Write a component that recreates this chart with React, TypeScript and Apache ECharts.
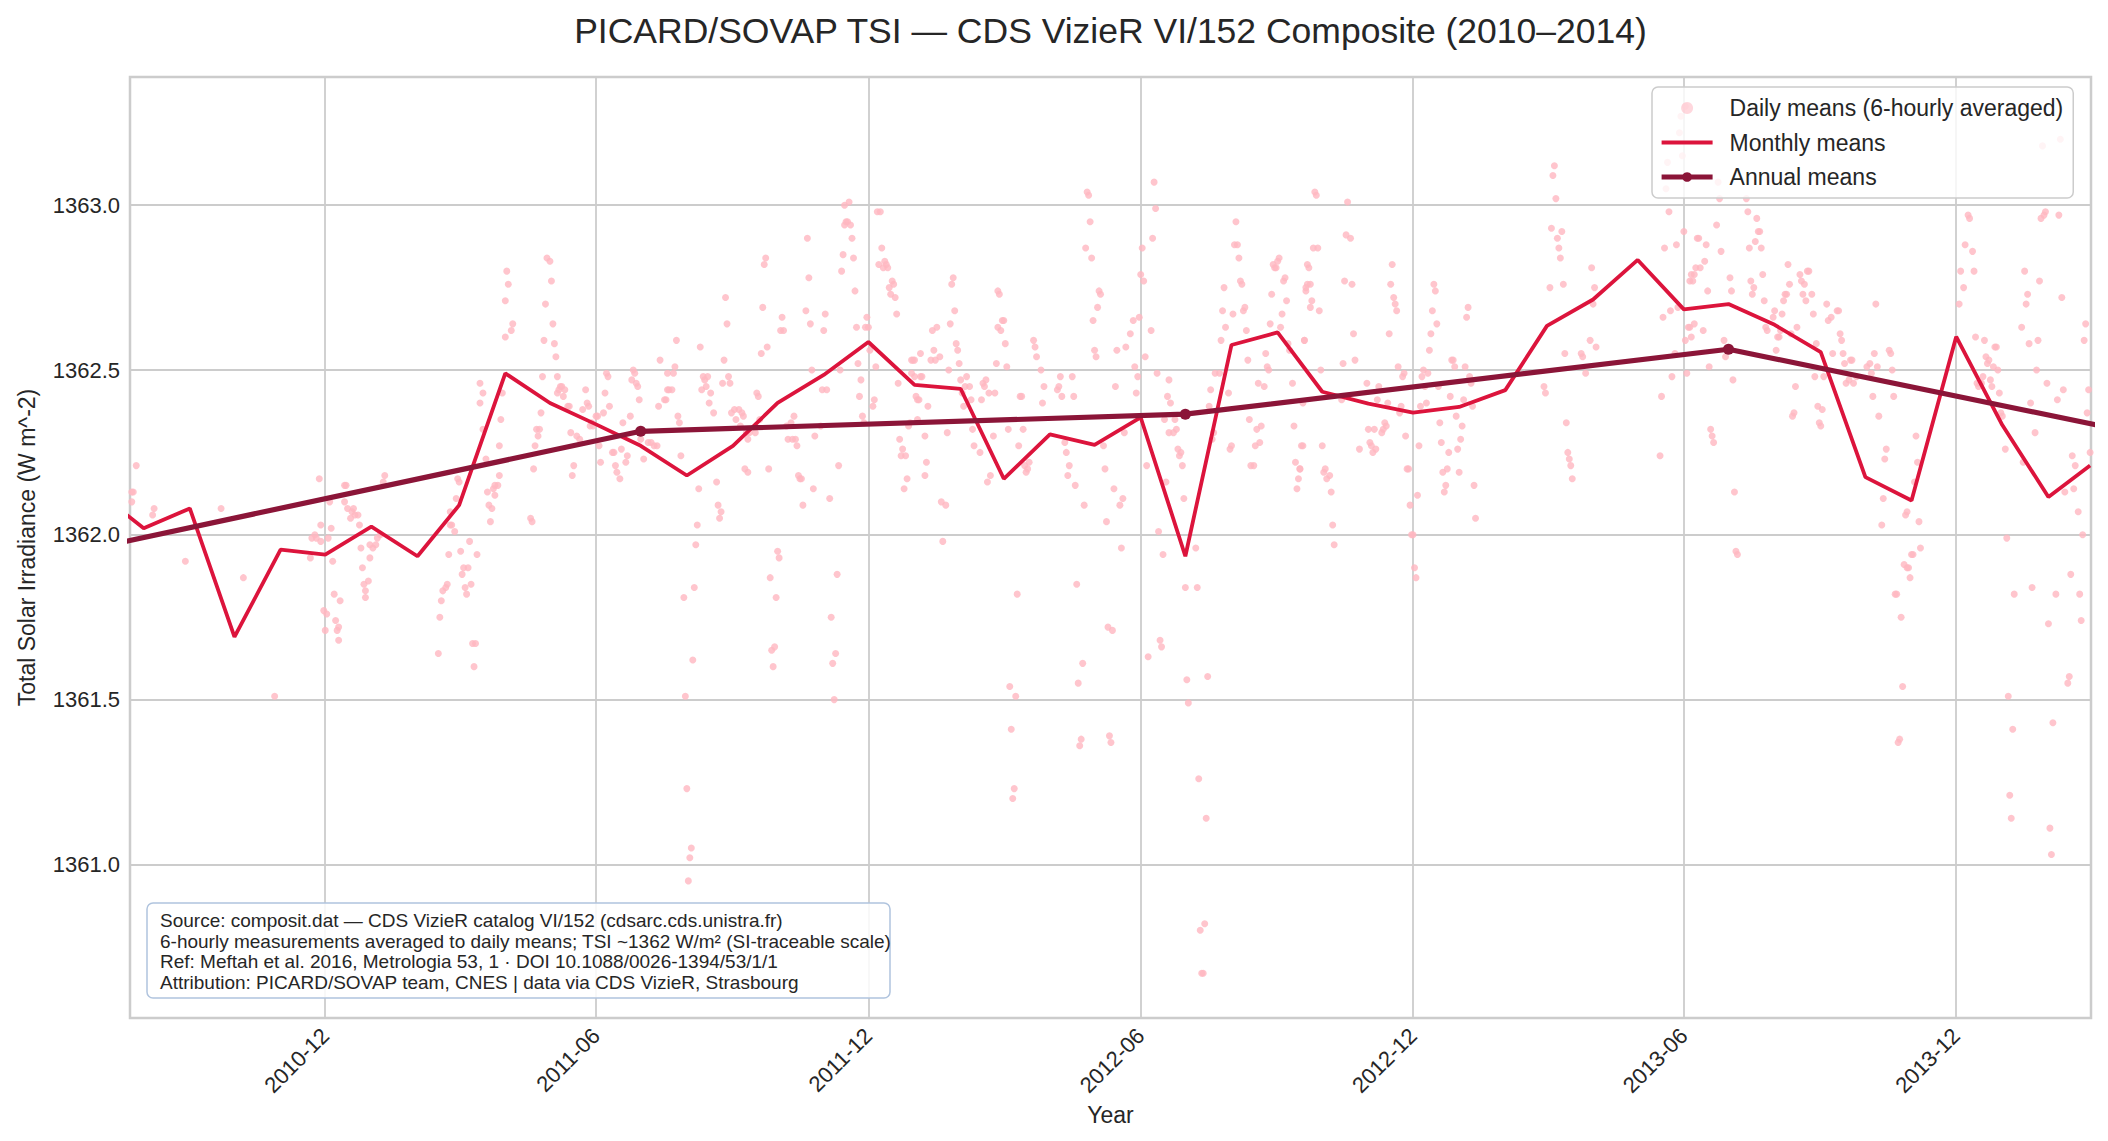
import React, { useEffect, useRef } from 'react';
import * as echarts from 'echarts';

const FONT = '"Liberation Sans", Arial, Helvetica, sans-serif';
const DAY_MS = 86400000;
const BASE_UTC = Date.UTC(2010, 6, 1); // day 0 = 2010-07-01
const toTime = (d: number) => BASE_UTC + d * DAY_MS;

// Daily means: [days since 2010-07-01, TSI W m^-2]
const daily2010: [number, number][] = [
  [23,1362.13],[24,1362.13],[23,1362.10],[26,1362.21],[37,1362.06],[38,1362.08],[59,1361.92],[83,1362.08],[98,1361.87],[119,1361.51],
  [149,1362.17],[150,1362.03],[146,1362.00],[144,1361.99],[147,1361.99],[150,1361.98],[155,1361.99],[157,1362.02],[156,1362.10],[143,1361.93],
  [158,1361.92],[152,1361.77],[154,1361.76],[153,1361.71],[159,1361.82],[163,1361.80],[160,1361.74],[162,1361.72],[161,1361.71],[162,1361.68],
  [166,1362.15],[167,1362.15],[166,1362.10],[168,1362.08],[172,1362.08],[171,1362.07],[173,1362.06],[175,1362.06],[170,1362.05],[176,1362.03],
  [177,1361.96],[183,1361.97],[178,1361.90],[182,1361.86],[179,1361.85],[180,1361.83],[180,1361.81],[183,1361.93],
];
const daily2011: [number, number][] = [
  [185,1361.96],[187,1361.97],[188,1361.99],[190,1362.00],[192,1362.16],[193,1362.18],
  [229,1361.64],[230,1361.75],[231,1361.80],[232,1361.83],[234,1361.84],[235,1361.85],[236,1361.94],[237,1362.03],[238,1362.03],[240,1362.01],
  [237,1362.07],[241,1362.11],[242,1362.17],[243,1362.16],[244,1361.95],[245,1361.88],[246,1361.90],[249,1361.90],[250,1361.98],[247,1361.84],
  [251,1361.85],[248,1361.82],[255,1361.94],[252,1361.67],[254,1361.67],[253,1361.60],[262,1362.13],[263,1362.09],[265,1362.08],[264,1362.04],
  [266,1362.14],[267,1362.12],[269,1362.15],[267,1362.15],[270,1362.18],[270,1362.27],[271,1362.35],[272,1362.43],[257,1362.46],[259,1362.43],
  [257,1362.40],[259,1362.32],[261,1362.23],[274,1362.60],[278,1362.62],[279,1362.64],[274,1362.71],[276,1362.76],[275,1362.80],
  [302,1362.84],[304,1362.83],[305,1362.77],[301,1362.70],[306,1362.64],[300,1362.59],[307,1362.58],[308,1362.54],[299,1362.48],[309,1362.48],
  [298,1362.37],[295,1362.32],[297,1362.32],[296,1362.30],[294,1362.27],[293,1362.20],[291,1362.05],[292,1362.04],[317,1362.39],[316,1362.39],
  [311,1362.45],[310,1362.44],[312,1362.45],[314,1362.44],[309,1362.43],[313,1362.42],[318,1362.31],[320,1362.21],[319,1362.18],[324,1362.29],
  [322,1362.30],[326,1362.38],[328,1362.44],[329,1362.40],[330,1362.39],[332,1362.34],[331,1362.33],[335,1362.36],[333,1362.33],[337,1362.27],
  [338,1362.22],[336,1362.36],[340,1362.37],[341,1362.43],[342,1362.49],[343,1362.48],[344,1362.39],[346,1362.25],[348,1362.21],[349,1362.19],
  [351,1362.17],[347,1362.25],[352,1362.26],[353,1362.34],[355,1362.22],[356,1362.24],[358,1362.36],[359,1362.47],[360,1362.50],[361,1362.49],
  [362,1362.46],[363,1362.45],[364,1362.41],[365,1362.29],[367,1362.23],[370,1362.28],[372,1362.28],[374,1362.27],[376,1362.27],[377,1362.39],
  [378,1362.53],[381,1362.41],[382,1362.41],[383,1362.44],[384,1362.44],[386,1362.44],[383,1362.49],[387,1362.49],[388,1362.51],[389,1362.59],
  [390,1362.36],[391,1362.34],[392,1362.24],[394,1361.81],[395,1361.51],[396,1361.23],[397,1360.95],[398,1361.02],[399,1361.05],[400,1361.62],
  [401,1361.84],[402,1361.97],[403,1362.03],[404,1362.14],[406,1362.44],[407,1362.48],[408,1362.47],[409,1362.45],[411,1362.40],[412,1362.43],
  [410,1362.48],[414,1362.37],[405,1362.57],[416,1362.16],[417,1362.09],[418,1362.05],[419,1362.07],[420,1362.46],[421,1362.53],[422,1362.72],
  [423,1362.64],[424,1362.48],[425,1362.46],[426,1362.37],[428,1362.38],[429,1362.35],[431,1362.38],[432,1362.33],[433,1362.37],[434,1362.36],
  [436,1362.31],[437,1362.29],[438,1362.31],[435,1362.20],[437,1362.19],[443,1362.43],[444,1362.42],[442,1362.31],[445,1362.35],[447,1362.69],
  [448,1362.82],[449,1362.84],[446,1362.55],[450,1362.57],[451,1362.20],[452,1361.87],[453,1361.65],[454,1361.60],[455,1361.66],[456,1361.81],
  [457,1361.95],[458,1361.93],[459,1362.62],[461,1362.62],[460,1362.66],[463,1362.33],[464,1362.29],[466,1362.34],[467,1362.29],[468,1362.36],
  [469,1362.29],[470,1362.27],[471,1362.18],[472,1362.17],[473,1362.17],[474,1362.09],[476,1362.68],[477,1362.90],[478,1362.78],[479,1362.64],
  [480,1362.50],[481,1362.14],[482,1362.30],[486,1362.33],[487,1362.44],[488,1362.62],[489,1362.67],[490,1362.44],[492,1362.11],[493,1361.75],
  [494,1361.61],[495,1361.50],[496,1361.64],[497,1361.88],[498,1362.21],[499,1362.50],[500,1362.80],[501,1362.85],[502,1362.94],[503,1362.95],
  [504,1362.95],[505,1363.01],[502,1363.00],[506,1362.94],[507,1362.90],[508,1362.84],[509,1362.74],[510,1362.63],[511,1362.52],[512,1362.42],
  [513,1362.47],[514,1362.36],[515,1362.34],[516,1362.63],[517,1362.66],[518,1362.63],[519,1362.56],[521,1362.39],[522,1362.41],[523,1362.51],
  [524,1362.98],[526,1362.98],[527,1362.87],[525,1362.82],[528,1362.81],[529,1362.83],[530,1362.82],[531,1362.81],[532,1362.75],[533,1362.73],
  [534,1362.77],[535,1362.76],[536,1362.72],[537,1362.67],[538,1362.46],[539,1362.29],[540,1362.24],[541,1362.26],[543,1362.24],[544,1362.17],
  [542,1362.14],[545,1362.33],[547,1362.53],[548,1362.53],
];
const daily2012: [number, number][] = [
  [549,1362.48],[550,1362.42],[551,1362.41],[547,1362.49],[549,1362.53],[552,1362.41],[553,1362.48],[554,1362.48],[553,1362.55],[546,1362.34],
  [551,1362.35],[556,1362.30],[557,1362.22],[556,1362.18],[558,1362.39],[560,1362.53],[561,1362.62],[562,1362.56],[563,1362.53],[564,1362.63],
  [566,1362.54],[567,1362.10],[570,1362.09],[568,1361.98],[571,1362.31],[572,1362.50],[573,1362.64],[574,1362.76],[575,1362.78],[576,1362.68],
  [577,1362.58],[578,1362.56],[579,1362.52],[580,1362.47],[581,1362.43],[582,1362.39],[584,1362.48],[583,1362.45],[586,1362.45],[587,1362.41],
  [588,1362.32],[589,1362.27],[593,1362.25],[594,1362.41],[595,1362.46],[596,1362.45],[597,1362.47],[599,1362.43],[600,1362.18],[598,1362.16],
  [602,1362.30],[603,1362.43],[604,1362.52],[605,1362.74],[606,1362.73],[605,1362.63],[607,1362.62],[608,1362.65],[609,1362.65],[610,1362.58],
  [611,1362.51],[612,1362.32],[613,1361.54],[614,1361.41],[615,1361.20],[616,1361.23],[617,1361.51],[618,1361.82],[619,1362.27],[620,1362.42],
  [621,1362.42],[622,1362.32],[623,1362.21],[624,1362.19],[625,1362.20],[626,1362.22],[629,1362.59],[630,1362.57],[631,1362.54],[634,1362.50],
  [635,1362.40],[636,1362.45],[645,1362.44],[646,1362.45],[647,1362.48],[648,1362.42],[650,1362.28],[651,1362.25],[652,1362.18],[653,1362.21],
  [655,1362.48],[656,1362.42],[657,1362.15],[658,1361.85],[659,1361.55],[660,1361.36],[661,1361.38],[662,1361.61],[663,1362.09],[665,1363.04],
  [666,1363.03],[667,1362.95],[664,1362.87],[668,1362.84],[669,1362.65],[670,1362.56],[671,1362.54],[672,1362.69],[673,1362.74],[674,1362.73],
  [676,1362.27],[677,1362.20],[678,1362.04],[679,1361.72],[680,1361.39],[681,1361.37],[682,1361.71],[683,1362.14],[684,1362.45],[685,1362.56],
  [687,1362.09],[688,1361.96],[689,1362.11],[690,1362.31],[691,1362.57],[694,1362.61],[696,1362.65],[697,1362.51],[698,1362.43],[699,1362.48],
  [700,1362.66],[701,1362.79],[702,1362.87],[703,1362.77],[704,1362.54],[705,1362.21],[706,1361.63],[708,1362.62],[709,1362.90],[710,1363.07],
  [711,1362.99],[712,1362.49],[713,1362.01],[714,1361.68],[715,1361.66],[716,1361.94],[718,1362.16],[720,1362.47],[719,1362.42],[721,1362.40],
  [717,1362.35],[720,1362.31],[723,1362.31],[724,1362.35],[725,1362.32],[726,1362.26],[727,1362.24],[728,1362.25],[729,1362.21],[730,1362.11],
  [731,1361.84],[732,1361.56],[733,1361.49],[738,1361.96],[739,1361.84],[740,1361.26],[741,1360.80],[742,1360.67],[743,1360.67],[744,1360.82],
  [745,1361.14],[746,1361.57],[747,1362.39],[748,1362.44],[749,1362.29],[750,1362.31],[751,1362.49],[754,1362.49],[755,1362.59],[756,1362.68],
  [757,1362.75],[758,1362.63],[760,1362.43],[761,1362.26],[762,1362.27],[763,1362.67],[764,1362.88],[765,1362.95],[766,1362.88],[767,1362.84],
  [768,1362.77],[769,1362.76],[770,1362.68],[771,1362.69],[772,1362.62],[773,1362.53],[774,1362.35],[775,1362.21],[777,1362.21],[778,1362.27],
  [779,1362.32],[780,1362.46],[781,1362.28],[782,1362.33],[784,1362.45],[785,1362.55],[786,1362.51],[787,1362.50],[788,1362.64],[789,1362.73],
  [790,1362.82],[791,1362.81],[792,1362.81],[793,1362.83],[794,1362.84],[795,1362.63],[796,1362.67],[797,1362.77],[798,1362.78],[799,1362.71],
  [800,1362.58],[801,1362.56],[803,1362.46],[804,1362.33],[805,1362.22],[806,1362.14],[807,1362.17],[808,1362.20],[809,1362.27],[811,1362.59],
  [812,1362.75],[813,1362.76],[814,1362.81],[818,1363.04],[819,1363.03],[817,1362.87],[820,1362.87],[813,1362.82],[815,1362.76],[812,1362.74],
  [816,1362.71],[815,1362.69],[821,1362.68],[811,1362.59],[822,1362.50],[810,1362.40],[810,1362.27],[823,1362.27],[808,1362.20],[825,1362.20],
  [824,1362.19],[826,1362.17],[828,1362.18],[829,1362.13],[830,1362.03],[831,1361.97],[840,1363.01],[839,1362.91],[842,1362.90],[838,1362.77],
  [843,1362.76],[844,1362.61],[837,1362.52],[845,1362.53],[836,1362.41],[848,1362.26],[853,1362.46],[854,1362.32],[855,1362.28],[856,1362.27],
  [857,1362.25],[859,1362.26],[858,1362.32],[860,1362.41],[861,1362.45],[863,1362.31],[864,1362.32],[865,1362.34],[866,1362.33],[867,1362.40],
  [868,1362.61],[870,1362.82],[869,1362.76],[871,1362.72],[872,1362.70],[873,1362.68],[874,1362.51],[875,1362.37],[876,1362.39],[877,1362.48],
  [878,1362.49],[879,1362.30],[880,1362.20],[881,1362.20],[882,1362.09],[883,1362.00],[884,1362.00],[885,1361.90],[886,1361.87],[887,1362.12],
  [888,1362.27],[889,1362.39],[890,1362.48],[891,1362.50],[892,1362.45],[894,1362.49],[893,1362.40],[895,1362.56],[896,1362.61],[898,1362.76],
  [899,1362.74],[897,1362.68],[900,1362.64],[901,1362.45],[902,1362.34],[903,1362.28],[904,1362.19],[905,1362.13],[906,1362.15],[907,1362.20],
  [908,1362.25],[909,1362.42],[910,1362.53],[911,1362.53],[912,1362.51],[913,1362.36],[914,1362.26],
];
const daily2013: [number, number][] = [
  [915,1362.19],[916,1362.29],[917,1362.33],[918,1362.41],[919,1362.51],[920,1362.66],[921,1362.69],[922,1362.48],[923,1362.46],[924,1362.39],
  [925,1362.15],[926,1362.05],[972,1362.45],[973,1362.43],[976,1362.75],[977,1362.93],[978,1363.09],[979,1363.12],[980,1363.02],[981,1362.90],
  [982,1362.87],[983,1362.84],[984,1362.92],[985,1362.76],[986,1362.55],[987,1362.34],[988,1362.25],[989,1362.23],[990,1362.21],[991,1362.17],
  [997,1362.55],[998,1362.54],[1000,1362.49],[1003,1362.59],[1005,1362.70],[1006,1362.75],[1004,1362.81],[1007,1362.57],[1050,1362.24],[1051,1362.42],
  [1052,1362.66],[1053,1362.87],[1054,1363.05],[1055,1363.13],[1056,1362.98],[1057,1362.68],[1058,1362.48],[1060,1362.55],[1061,1362.88],[1062,1362.69],
  [1066,1362.92],[1067,1362.59],[1068,1362.49],[1069,1362.63],[1070,1362.77],[1071,1362.79],[1073,1362.64],[1074,1362.81],[1075,1362.90],[1067,1363.30],
  [1064,1363.27],[1063,1363.22],[1065,1363.15],[1089,1363.07],[1090,1363.02],[1088,1362.94],[1091,1362.86],[1076,1362.90],[1081,1362.88],[1077,1362.81],
  [1072,1362.77],[1080,1362.83],[1073,1362.79],[1082,1362.74],[1070,1362.63],[1071,1362.60],[1079,1362.62],[1083,1362.51],[1084,1362.32],[1085,1362.30],
  [1086,1362.28],[1093,1362.59],[1094,1362.54],[1097,1362.78],[1098,1362.74],[1099,1362.47],[1100,1362.13],[1101,1361.95],[1102,1361.94],[1108,1363.02],
  [1109,1362.98],[1110,1362.87],[1111,1362.77],[1113,1362.75],[1112,1362.73],[1115,1362.96],[1116,1362.92],[1114,1362.89],[1117,1362.92],[1118,1362.87],
  [1119,1362.79],[1120,1362.71],[1122,1362.62],[1121,1362.63],[1126,1362.66],[1127,1362.68],[1129,1362.60],[1130,1362.60],[1128,1362.56],[1131,1362.62],
  [1132,1362.67],[1134,1362.73],[1135,1362.73],[1136,1362.82],[1137,1362.76],[1133,1362.71],[1138,1362.61],[1141,1362.45],[1142,1362.63],[1144,1362.79],
  [1145,1362.77],[1146,1362.73],[1147,1362.76],[1148,1362.71],[1149,1362.80],[1150,1362.80],[1152,1362.73],[1153,1362.67],[1140,1362.37],[1139,1362.36],
  [1155,1362.58],[1154,1362.48],[1156,1362.39],[1157,1362.34],[1158,1362.33],[1159,1362.38],[1160,1362.48],[1162,1362.70],[1163,1362.65],[1165,1362.66],
  [1169,1362.68],[1170,1362.68],[1166,1362.55],[1171,1362.61],[1172,1362.59],[1173,1362.55],[1174,1362.52],[1175,1362.46],[1177,1362.47],[1178,1362.53],
  [1179,1362.53],[1180,1362.46],[1182,1362.48],[1189,1362.51],[1191,1362.52],[1192,1362.49],[1193,1362.42],[1195,1362.70],[1194,1362.55],[1196,1362.51],
  [1197,1362.36],[1199,1362.03],[1200,1362.11],[1201,1362.23],[1202,1362.26],[1204,1362.56],[1205,1362.55],[1206,1362.50],[1207,1362.42],[1208,1361.82],
  [1209,1361.82],[1212,1361.75],[1213,1361.54],[1211,1361.38],[1210,1361.37],[1214,1361.91],[1216,1361.90],[1217,1361.90],[1218,1361.87],[1219,1361.94],
  [1220,1361.94],[1221,1362.16],[1222,1362.30],[1223,1362.22],[1224,1362.04],[1225,1361.96],[1215,1362.06],[1216,1362.07],[1251,1362.70],[1252,1362.80],
  [1254,1362.75],[1255,1362.88],[1257,1362.97],[1258,1362.96],[1260,1362.86],[1261,1362.80],[1262,1362.60],[1263,1362.46],[1264,1362.45],[1265,1362.46],
  [1266,1362.46],[1267,1362.48],[1268,1362.59],[1269,1362.54],[1270,1362.52],[1271,1362.53],[1272,1362.47],[1273,1362.45],[1274,1362.51],[1275,1362.57],
  [1276,1362.57],[1277,1362.50],[1278,1362.43],[1279,1362.37],
];
const daily2014: [number, number][] = [
  [1280,1362.36],[1282,1362.26],[1283,1361.99],[1284,1361.51],[1285,1361.21],[1286,1361.14],[1287,1361.41],[1288,1361.82],[1293,1362.63],[1294,1362.22],
  [1295,1362.80],[1296,1362.70],[1297,1362.73],[1298,1362.58],[1299,1362.40],[1300,1361.84],[1302,1362.31],[1303,1362.50],[1304,1362.59],[1305,1362.77],
  [1306,1362.96],[1307,1363.18],[1308,1362.97],[1309,1362.98],[1310,1362.46],[1311,1361.73],[1312,1361.11],[1313,1361.03],[1314,1361.43],[1316,1361.82],
  [1317,1362.41],[1318,1362.97],[1319,1363.20],[1320,1362.72],[1321,1362.44],[1322,1362.13],[1324,1361.55],[1325,1361.57],[1326,1361.88],[1328,1362.14],
  [1329,1362.21],[1327,1362.24],[1331,1362.07],[1332,1361.82],[1333,1361.74],[1334,1362.00],[1335,1362.59],[1336,1362.64],[1338,1362.44],[1337,1362.37],
  [1339,1362.25],
];

// Monthly means (plotted at month start)
const monthLabels = [
  '2010-07','2010-08','2010-09','2010-10','2010-11','2010-12',
  '2011-01','2011-02','2011-03','2011-04','2011-05','2011-06','2011-07','2011-08','2011-09','2011-10','2011-11','2011-12',
  '2012-01','2012-02','2012-03','2012-04','2012-05','2012-06','2012-07','2012-08','2012-09','2012-10','2012-11','2012-12',
  '2013-01','2013-02','2013-03','2013-04','2013-05','2013-06','2013-07','2013-08','2013-09','2013-10','2013-11','2013-12',
  '2014-01','2014-02','2014-03',
];
const monthlyTsi = [
  1362.13, 1362.02, 1362.08, 1361.69, 1361.955, 1361.94,
  1362.025, 1361.935, 1362.09, 1362.49, 1362.40, 1362.335, 1362.27, 1362.18, 1362.27, 1362.40, 1362.485, 1362.585,
  1362.455, 1362.443, 1362.17, 1362.305, 1362.273, 1362.356, 1361.935, 1362.576, 1362.614, 1362.434, 1362.398, 1362.371,
  1362.388, 1362.439, 1362.634, 1362.714, 1362.834, 1362.684, 1362.70, 1362.637, 1362.554, 1362.175, 1362.104, 1362.601,
  1362.333, 1362.115, 1362.21,
];

// Annual means (plotted at mid-year, 1 July)
const annualYears = [2010, 2011, 2012, 2013, 2014];
const annualTsi = [1361.962, 1362.314, 1362.366, 1362.563, 1362.224];

const xTickLabels = ['2010-12', '2011-06', '2011-12', '2012-06', '2012-12', '2013-06', '2013-12'];
const yTickValues = [1361.0, 1361.5, 1362.0, 1362.5, 1363.0];

const X_MIN_DAY = 21.8;
const X_MAX_DAY = 1339.6;
const Y_MIN = 1360.534;
const Y_MAX = 1363.389;

const annotationLines = [
  'Source: composit.dat — CDS VizieR catalog VI/152 (cdsarc.cds.unistra.fr)',
  '6-hourly measurements averaged to daily means; TSI ~1362 W/m² (SI-traceable scale)',
  'Ref: Meftah et al. 2016, Metrologia 53, 1 · DOI 10.1088/0026-1394/53/1/1',
  'Attribution: PICARD/SOVAP team, CNES | data via CDS VizieR, Strasbourg',
];

const monthToTime = (s: string) => {
  const [y, m] = s.split('-').map(Number);
  return Date.UTC(y, m - 1, 1);
};

const TEXT = '#262626';
const GRID_C = '#cccccc';
const MONTHLY_C = '#dc143c';
const ANNUAL_C = '#8b1538';

export default function App() {
  const ref = useRef<HTMLDivElement>(null);

  useEffect(() => {
    document.body.style.margin = '0';
    if (!ref.current) return;
    const chart = echarts.init(ref.current, undefined, { renderer: 'svg' });

    const dailyAll = [...daily2010, ...daily2011, ...daily2012, ...daily2013, ...daily2014];
    const xTicks = xTickLabels.map(monthToTime);
    const fmtX = (v: number) => {
      const d = new Date(v);
      return `${d.getUTCFullYear()}-${String(d.getUTCMonth() + 1).padStart(2, '0')}`;
    };

    chart.setOption({
      animation: false,
      backgroundColor: '#ffffff',
      textStyle: { fontFamily: FONT },
      title: {
        text: 'PICARD/SOVAP TSI — CDS VizieR VI/152 Composite (2010–2014)',
        left: 1110.5,
        top: 13,
        textAlign: 'center',
        padding: 0,
        textStyle: { fontSize: 35.5, fontWeight: 'normal', color: TEXT, fontFamily: FONT },
      },
      grid: {
        left: 130, top: 77, width: 1961, height: 941,
        show: true, borderColor: GRID_C, borderWidth: 2.5, backgroundColor: 'rgba(0,0,0,0)',
      },
      xAxis: {
        type: 'value',
        min: toTime(X_MIN_DAY),
        max: toTime(X_MAX_DAY),
        name: 'Year',
        nameLocation: 'middle',
        nameGap: 72,
        nameTextStyle: { fontSize: 23, color: TEXT, fontFamily: FONT },
        axisLine: { show: false },
        axisTick: { show: false, customValues: xTicks },
        axisLabel: {
          customValues: xTicks,
          formatter: fmtX,
          rotate: 45,
          fontSize: 22,
          color: TEXT,
          margin: 14,
          fontFamily: FONT,
        },
        splitLine: { show: true, lineStyle: { color: GRID_C, width: 1.8 } },
      },
      yAxis: {
        type: 'value',
        min: Y_MIN,
        max: Y_MAX,
        name: 'Total Solar Irradiance (W m^-2)',
        nameLocation: 'middle',
        nameGap: 92,
        nameTextStyle: { fontSize: 23, color: TEXT, fontFamily: FONT },
        axisLine: { show: false },
        axisTick: { show: false, customValues: yTickValues },
        axisLabel: {
          customValues: yTickValues,
          formatter: (v: number) => v.toFixed(1),
          fontSize: 22,
          color: TEXT,
          margin: 10,
          fontFamily: FONT,
        },
        splitLine: { show: true, lineStyle: { color: GRID_C, width: 1.8 } },
      },
      legend: {
        left: 1652,
        top: 87,
        orient: 'vertical',
        align: 'left',
        padding: [8, 10, 8, 7],
        itemWidth: 51,
        itemHeight: 12,
        itemGap: 8.5,
        backgroundColor: 'rgba(255,255,255,0.8)',
        borderColor: '#cccccc',
        borderWidth: 1.5,
        borderRadius: 6,
        textStyle: { fontSize: 23, color: TEXT, lineHeight: 26, padding: [0, 0, 0, 12], fontFamily: FONT },
        data: [
          { name: 'Daily means (6-hourly averaged)', icon: 'circle', itemStyle: { opacity: 0.55 } },
          { name: 'Monthly means', itemStyle: { opacity: 0 }, lineStyle: { width: 3.8, color: MONTHLY_C } },
          { name: 'Annual means', lineStyle: { width: 5.2, color: ANNUAL_C } },
        ],
      },
      series: [
        {
          type: 'scatter',
          name: 'Daily means (6-hourly averaged)',
          data: dailyAll.map(([d, v]) => [toTime(d), v]),
          symbol: 'circle',
          symbolSize: 7,
          itemStyle: { color: '#ffb6c1', opacity: 0.8 },
          silent: true,
          z: 1,
        },
        {
          type: 'line',
          name: 'Monthly means',
          data: monthLabels.map((m, i) => [monthToTime(m), monthlyTsi[i]]),
          symbol: 'none',
          showSymbol: false,
          lineStyle: { color: MONTHLY_C, width: 3.8 },
          itemStyle: { color: MONTHLY_C },
          clip: true,
          z: 2,
        },
        {
          type: 'line',
          name: 'Annual means',
          data: annualYears.map((y, i) => [Date.UTC(y, 6, 1), annualTsi[i]]),
          symbol: 'circle',
          symbolSize: 11,
          showSymbol: true,
          lineStyle: { color: ANNUAL_C, width: 5.2 },
          itemStyle: { color: ANNUAL_C },
          clip: true,
          z: 3,
        },
      ],
      graphic: [
        {
          type: 'rect',
          z: 100,
          shape: { x: 147, y: 903, width: 743, height: 95, r: 6 },
          style: { fill: 'rgba(255,255,255,0.85)', stroke: '#b0c4de', lineWidth: 1.5 },
        },
        {
          type: 'text',
          z: 101,
          x: 160,
          y: 910,
          style: {
            text: annotationLines.join('\n'),
            fontSize: 19,
            lineHeight: 20.7,
            fill: TEXT,
            fontFamily: FONT,
          },
        },
      ],
    });

    return () => chart.dispose();
  }, []);

  return <div ref={ref} style={{ width: 2108, height: 1141 }} />;
}
